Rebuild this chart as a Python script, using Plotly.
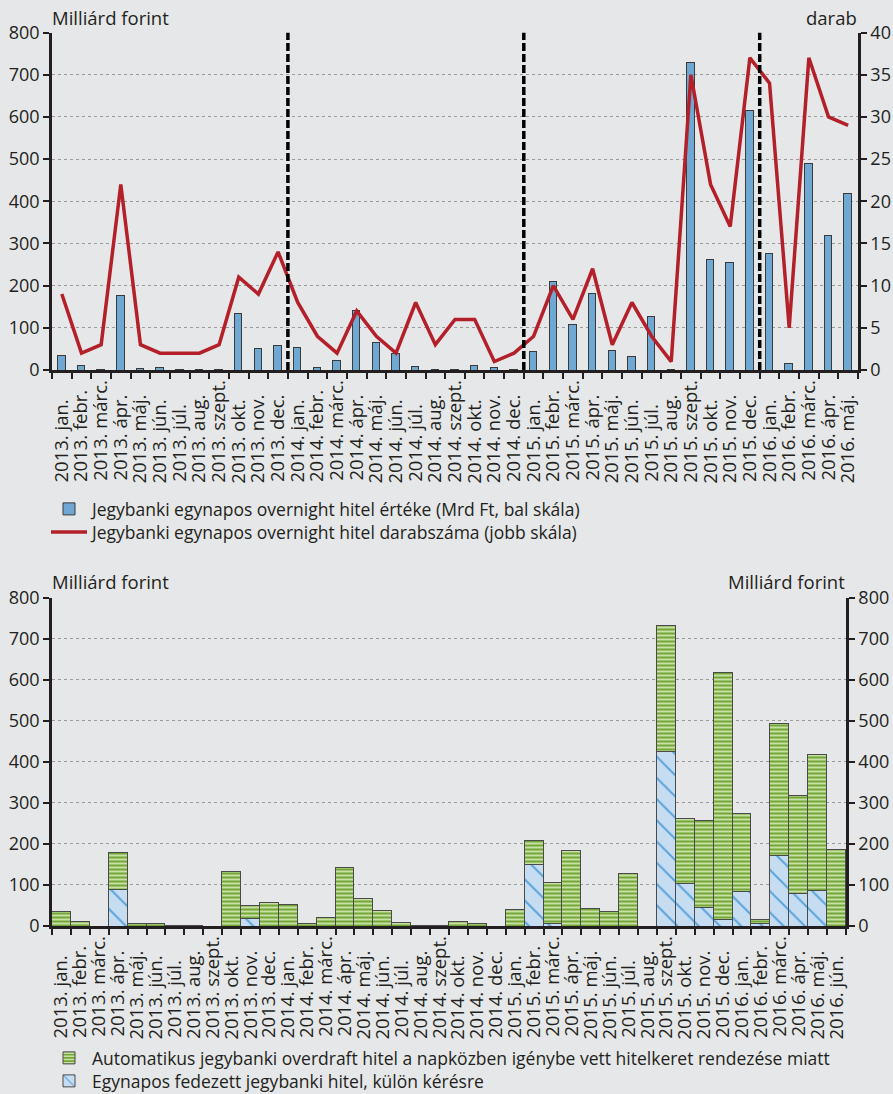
import plotly.graph_objects as go

# ---- data -------------------------------------------------------------
MONTHS = ["jan.", "febr.", "márc.", "ápr.", "máj.", "jún.", "júl.",
          "aug.", "szept.", "okt.", "nov.", "dec."]

def period_labels(first_year, last_year, last_month_count):
    out = []
    for y in range(first_year, last_year + 1):
        n = 12 if y < last_year else last_month_count
        out += [f"{y}. {m}" for m in MONTHS[:n]]
    return out

cats_top = period_labels(2013, 2016, 5)   # 2013. jan. – 2016. máj.
cats_bot = period_labels(2013, 2016, 6)   # 2013. jan. – 2016. jún.

# Overnight loan value (bn HUF, left scale)
overnight_value = [34, 10, 1, 177, 4, 7, 1, 1, 1, 133, 51, 57,
                   54, 5, 23, 141, 66, 39, 8, 1, 1, 11, 5, 1,
                   43, 209, 107, 182, 46, 33, 127, 1, 730, 261, 255, 616,
                   276, 16, 490, 319, 419]

# Overnight loan count (right scale)
overnight_count = [9, 2, 3, 22, 3, 2, 2, 2, 3, 11, 9, 14,
                   8, 4, 2, 7, 4, 2, 8, 3, 6, 6, 1, 2,
                   4, 10, 6, 12, 3, 8, 4, 1, 35, 22, 17, 37,
                   34, 5, 37, 30, 29]

# Collateralised overnight loan on request (bn HUF)
on_request = [0, 0, 0, 88, 0, 0, 0, 0, 0, 0, 19, 0,
              0, 0, 0, 0, 0, 0, 0, 0, 0, 0, 0, 0,
              0, 151, 6, 0, 0, 0, 0, 0, 426, 104, 46, 17,
              83, 5, 172, 80, 86, 0]

# Automatic overdraft from intraday credit line (bn HUF)
automatic = [36, 11, 0, 90, 6, 5, 1, 1, 0, 133, 31, 57,
             53, 6, 21, 143, 67, 38, 9, 1, 1, 11, 5, 0,
             41, 57, 100, 183, 43, 35, 127, 0, 305, 157, 210, 600,
             190, 10, 321, 239, 331, 187]

left_ticks = [0, 100, 200, 300, 400, 500, 600, 700, 800]
right_ticks_top = [0, 5, 10, 15, 20, 25, 30, 35, 40]

# ---- styling ----------------------------------------------------------
W, H = 893, 1094
BG = "#e6e7e8"
INK = "#231f20"
FONT = "Open Sans"
NBSP = "\u00a0"

# approximate advance widths (em) used to pad labels to a common length
EM = {"j": .258, "a": .556, "á": .556, "n": .618, ".": .266, "f": .336,
      "e": .561, "b": .613, "r": .408, "m": .932, "c": .479, "p": .613,
      "ú": .618, "l": .258, "u": .618, "g": .546, "s": .477, "z": .464,
      "t": .356, "o": .602, "k": .529, "v": .500, "d": .613}
_longest = max(sum(EM[c] for c in m) for m in MONTHS)

def padded(label):
    month = label.split(" ", 1)[1]
    n = round((_longest - sum(EM[c] for c in month)) / 0.26)
    return label + NBSP * n

def px_x(v):
    return v / W

def px_y(v):
    return 1 - v / H

fig = go.Figure()

fig.add_trace(go.Bar(
    x=cats_top, y=overnight_value, xaxis="x", yaxis="y",
    width=0.38, marker=dict(color="#6fa8d2", line=dict(color="#3a3a3a", width=1)),
    name="Jegybanki egynapos overnight hitel értéke (Mrd Ft, bal skála)",
    legend="legend",
))
fig.add_trace(go.Scatter(
    x=cats_top, y=overnight_count, xaxis="x", yaxis="y2", mode="lines",
    line=dict(color="#b3202a", width=3.5),
    name="Jegybanki egynapos overnight hitel darabszáma (jobb skála)",
    legend="legend2",
))

fig.add_trace(go.Bar(
    x=cats_bot, y=on_request, xaxis="x2", yaxis="y3", width=1,
    marker=dict(color="#c6dcf1", line=dict(color="#4a4a4a", width=1),
                pattern=dict(shape="\\", fgcolor="#58a3dc", bgcolor="#c6dcf1",
                             size=15, solidity=0.13)),
    name="Egynapos fedezett jegybanki hitel, külön kérésre",
    legend="legend4",
))
fig.add_trace(go.Bar(
    x=cats_bot, y=automatic, xaxis="x2", yaxis="y3", width=1,
    marker=dict(color="#74a83a", line=dict(color="#4a4a4a", width=1),
                pattern=dict(shape="-", fgcolor="#d2e7b0", bgcolor="#72a637",
                             size=4, solidity=0.45)),
    name="Automatikus jegybanki overdraft hitel a napközben igénybe vett hitelkeret rendezése miatt",
    legend="legend3",
))

# year boundaries drawn as dashed verticals in the upper panel
for i in range(1, len(cats_top)):
    if cats_top[i][:4] != cats_top[i - 1][:4]:
        fig.add_shape(type="line", xref="x", yref="y", x0=i - 0.5, x1=i - 0.5,
                      y0=0, y1=800, line=dict(color="black", width=3.5, dash="8px,3px"),
                      layer="above")

tick_font = dict(family=FONT, size=18, color=INK)
cat_font = dict(family=FONT, size=18.5, color=INK)

def cat_axis(cats, domain, anchor):
    return dict(
        domain=domain, anchor=anchor, type="category", automargin=False,
        range=[-0.5, len(cats) - 0.5],
        tickmode="array", tickvals=cats, ticktext=[padded(c) for c in cats],
        tickangle=-90, tickson="boundaries", ticks="outside", ticklen=6,
        tickwidth=2, tickcolor=INK, tickfont=cat_font,
        showline=True, linecolor=INK, linewidth=2.5, showgrid=False,
        zeroline=False, fixedrange=True,
    )

def val_axis(domain, anchor, ticks, side="left", grid=True, overlaying=None):
    d = dict(
        domain=domain, anchor=anchor, side=side, automargin=False,
        range=[ticks[0], ticks[-1]], tickmode="array", tickvals=ticks,
        ticks="outside", ticklen=6, tickwidth=2, tickcolor=INK,
        tickfont=tick_font, showline=True, linecolor=INK, linewidth=2.5,
        showgrid=grid, gridcolor="#9a9a9a", griddash="dot", gridwidth=1,
        zeroline=False, fixedrange=True,
    )
    if overlaying:
        d["overlaying"] = overlaying
    return d

top_x = [px_x(52), px_x(858)]
top_y = [px_y(370), px_y(32.5)]
bot_x = [px_x(52), px_x(846)]
bot_y = [px_y(926), px_y(597.5)]

# one legend box per row so the row positions can be set exactly
legend_style = dict(xanchor="left", yanchor="middle", traceorder="normal",
                    bgcolor="rgba(0,0,0,0)", font=dict(family=FONT, size=17.5, color=INK),
                    itemwidth=36, itemclick=False, itemdoubleclick=False)

TITLE_FONT = dict(family=FONT, size=18.5, color=INK)

fig.update_layout(
    template="none",
    width=W, height=H, margin=dict(l=0, r=0, t=0, b=0, autoexpand=False),
    paper_bgcolor=BG, plot_bgcolor=BG,
    font=dict(family=FONT, size=16, color=INK),
    barmode="stack", bargap=0,
    xaxis=cat_axis(cats_top, top_x, "y"),
    yaxis=val_axis(top_y, "x", left_ticks),
    yaxis2=val_axis(top_y, "x", right_ticks_top, side="right", grid=False, overlaying="y"),
    xaxis2=cat_axis(cats_bot, bot_x, "y3"),
    yaxis3=val_axis(bot_y, "x2", left_ticks),
    yaxis4=val_axis(bot_y, "x2", left_ticks, side="right", grid=False, overlaying="y3"),
    showlegend=True,
    legend=dict(x=px_x(46), y=px_y(509), **legend_style),
    legend2=dict(x=px_x(46), y=px_y(532), **legend_style),
    legend3=dict(x=px_x(46), y=px_y(1058), **legend_style),
    legend4=dict(x=px_x(46), y=px_y(1081), **legend_style),
    annotations=[
        dict(text="Milliárd forint", xref="paper", yref="paper", x=px_x(50), y=px_y(17),
             xanchor="left", yanchor="middle", showarrow=False, font=TITLE_FONT),
        dict(text="darab", xref="paper", yref="paper", x=px_x(859), y=px_y(17),
             xanchor="right", yanchor="middle", showarrow=False, font=TITLE_FONT),
        dict(text="Milliárd forint", xref="paper", yref="paper", x=px_x(50), y=px_y(582),
             xanchor="left", yanchor="middle", showarrow=False, font=TITLE_FONT),
        dict(text="Milliárd forint", xref="paper", yref="paper", x=px_x(847), y=px_y(582),
             xanchor="right", yanchor="middle", showarrow=False, font=TITLE_FONT),
    ],
)

# empty trace so the right-hand scale of the lower panel is drawn
fig.add_trace(go.Scatter(x=[cats_bot[0]], y=[None], xaxis="x2", yaxis="y4",
                         showlegend=False, hoverinfo="skip"))

fig.write_html("out.html")
